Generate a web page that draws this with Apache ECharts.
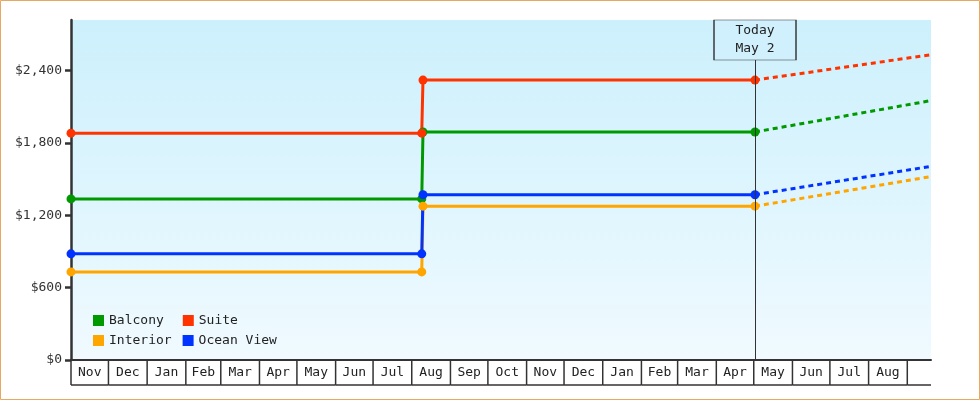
<!DOCTYPE html>
<html>
<head>
<meta charset="utf-8">
<script src="https://cdn.jsdelivr.net/npm/echarts@6/dist/echarts.min.js"></script>
<style>
  html, body { margin: 0; padding: 0; background: #fff; }
  #chart { width: 980px; height: 400px; }
</style>
</head>
<body>
<div id="chart"></div>
<script>
var startDate = '2022-11-01';
var endDate = '2024-09-20';
var jumpBefore = '2023-08-09';
var jumpAfter = '2023-08-10';
var today = '2024-05-02';

var tiers = ['Balcony', 'Suite', 'Interior', 'Ocean View'];
var tierColors = ['#009900', '#ff3300', '#ffa500', '#0033ff'];
var oldPrice = [1335, 1880, 730, 880];
var newPrice = [1890, 2320, 1275, 1370];
var forecastPrice = [2150, 2530, 1520, 1605];

var yTicks = [0, 600, 1200, 1800, 2400];
var yMax = 2818;

var monthLabels = ['Nov', 'Dec', 'Jan', 'Feb', 'Mar', 'Apr', 'May', 'Jun', 'Jul', 'Aug', 'Sep', 'Oct',
                   'Nov', 'Dec', 'Jan', 'Feb', 'Mar', 'Apr', 'May', 'Jun', 'Jul', 'Aug', ''];
var monthStarts = ['2022-11-01', '2022-12-01', '2023-01-01', '2023-02-01', '2023-03-01', '2023-04-01',
                   '2023-05-01', '2023-06-01', '2023-07-01', '2023-08-01', '2023-09-01', '2023-10-01',
                   '2023-11-01', '2023-12-01', '2024-01-01', '2024-02-01', '2024-03-01', '2024-04-01',
                   '2024-05-01', '2024-06-01', '2024-07-01', '2024-08-01', '2024-09-01'];

var font = '"DejaVu Sans Mono", "Liberation Mono", monospace';
var chart = echarts.init(document.getElementById('chart'));

// month cells under the axis
var cells = monthStarts.map(function (m, i) {
  var end = i + 1 < monthStarts.length ? monthStarts[i + 1] : endDate;
  return [echarts.time.parse(m), echarts.time.parse(end)];
});

var series = [];
tiers.forEach(function (name, i) {
  series.push({
    name: name,
    type: 'line',
    color: tierColors[i],
    symbol: 'circle',
    symbolSize: 9,
    lineStyle: { width: 3 },
    z: 3,
    data: [[startDate, oldPrice[i]], [jumpBefore, oldPrice[i]], [jumpAfter, newPrice[i]], [today, newPrice[i]]]
  });
  series.push({
    name: name,
    type: 'line',
    color: tierColors[i],
    showSymbol: false,
    lineStyle: { width: 3, type: [5, 4] },
    z: 3,
    data: [[today, newPrice[i]], [endDate, forecastPrice[i]]]
  });
});

series.push({
  type: 'custom',
  clip: false,
  silent: true,
  encode: { x: [0, 1] },
  data: cells,
  renderItem: function (params, api) {
    var a = api.coord([api.value(0), 0]);
    var b = api.coord([api.value(1), 0]);
    var y = a[1];
    return {
      type: 'group',
      children: [
        { type: 'line', shape: { x1: a[0], y1: y, x2: a[0], y2: y + 25 }, style: { stroke: '#333', lineWidth: 1.5 } },
        { type: 'line', shape: { x1: a[0], y1: y + 25, x2: b[0], y2: y + 25 }, style: { stroke: '#333', lineWidth: 1.5 } },
        { type: 'text', x: (a[0] + b[0]) / 2, y: y + 13,
          style: { text: monthLabels[params.dataIndex], align: 'center', verticalAlign: 'middle',
                   font: '13px ' + font, fill: '#222' } }
      ]
    };
  },
  markLine: {
    symbol: 'none',
    silent: true,
    label: { show: false },
    lineStyle: { color: '#333', width: 1, type: 'solid' },
    data: [[{ coord: [today, 0] }, { coord: [today, yMax] }]]
  },
  markPoint: {
    symbol: 'rect',
    symbolSize: [82, 40],
    symbolOffset: [0, 20],
    silent: true,
    itemStyle: { color: '#cff0fc', borderColor: '#333', borderWidth: 1 },
    label: { show: true, formatter: 'Today\nMay 2', color: '#222', fontSize: 13, lineHeight: 18, fontFamily: font },
    data: [{ coord: [today, yMax] }]
  }
});

function legendItems(names) {
  return names.map(function (n) {
    return { name: n, itemStyle: { color: tierColors[tiers.indexOf(n)], borderWidth: 0 } };
  });
}

var option = {
  animation: false,
  backgroundColor: '#ffffff',
  textStyle: { fontFamily: font },
  graphic: [{
    type: 'rect', silent: true, z: 100,
    shape: { x: 0.5, y: 0.5, width: 979, height: 399 },
    style: { fill: 'none', stroke: '#e9a862', lineWidth: 1 }
  }],
  grid: {
    left: 71, right: 49, top: 20, bottom: 40,
    show: true,
    borderWidth: 0,
    backgroundColor: new echarts.graphic.LinearGradient(0, 0, 0, 1, [
      { offset: 0, color: '#ccf0fc' },
      { offset: 1, color: '#f0faff' }
    ])
  },
  legend: [
    { left: 93, top: 314, padding: 0, itemWidth: 11, itemHeight: 11, itemGap: 19, icon: 'rect',
      textStyle: { fontFamily: font, fontSize: 13, color: '#222' }, data: legendItems(['Balcony', 'Suite']) },
    { left: 93, top: 334, padding: 0, itemWidth: 11, itemHeight: 11, itemGap: 11, icon: 'rect',
      textStyle: { fontFamily: font, fontSize: 13, color: '#222' }, data: legendItems(['Interior', 'Ocean View']) }
  ],
  xAxis: {
    type: 'time',
    min: startDate,
    max: endDate,
    axisLine: { lineStyle: { color: '#333', width: 2 } },
    axisTick: { show: false },
    axisLabel: { show: false },
    splitLine: { show: false }
  },
  yAxis: {
    type: 'value',
    min: 0,
    max: yMax,
    axisLine: { show: true, lineStyle: { color: '#333', width: 2.5 } },
    axisTick: { show: true, length: 6, lineStyle: { width: 2.5 }, customValues: yTicks },
    axisLabel: {
      margin: 9, color: '#333', fontSize: 13, fontFamily: font, customValues: yTicks,
      formatter: function (v) { return '$' + v.toLocaleString('en-US'); }
    },
    splitLine: { show: false }
  },
  series: series
};

chart.setOption(option);
</script>
</body>
</html>
